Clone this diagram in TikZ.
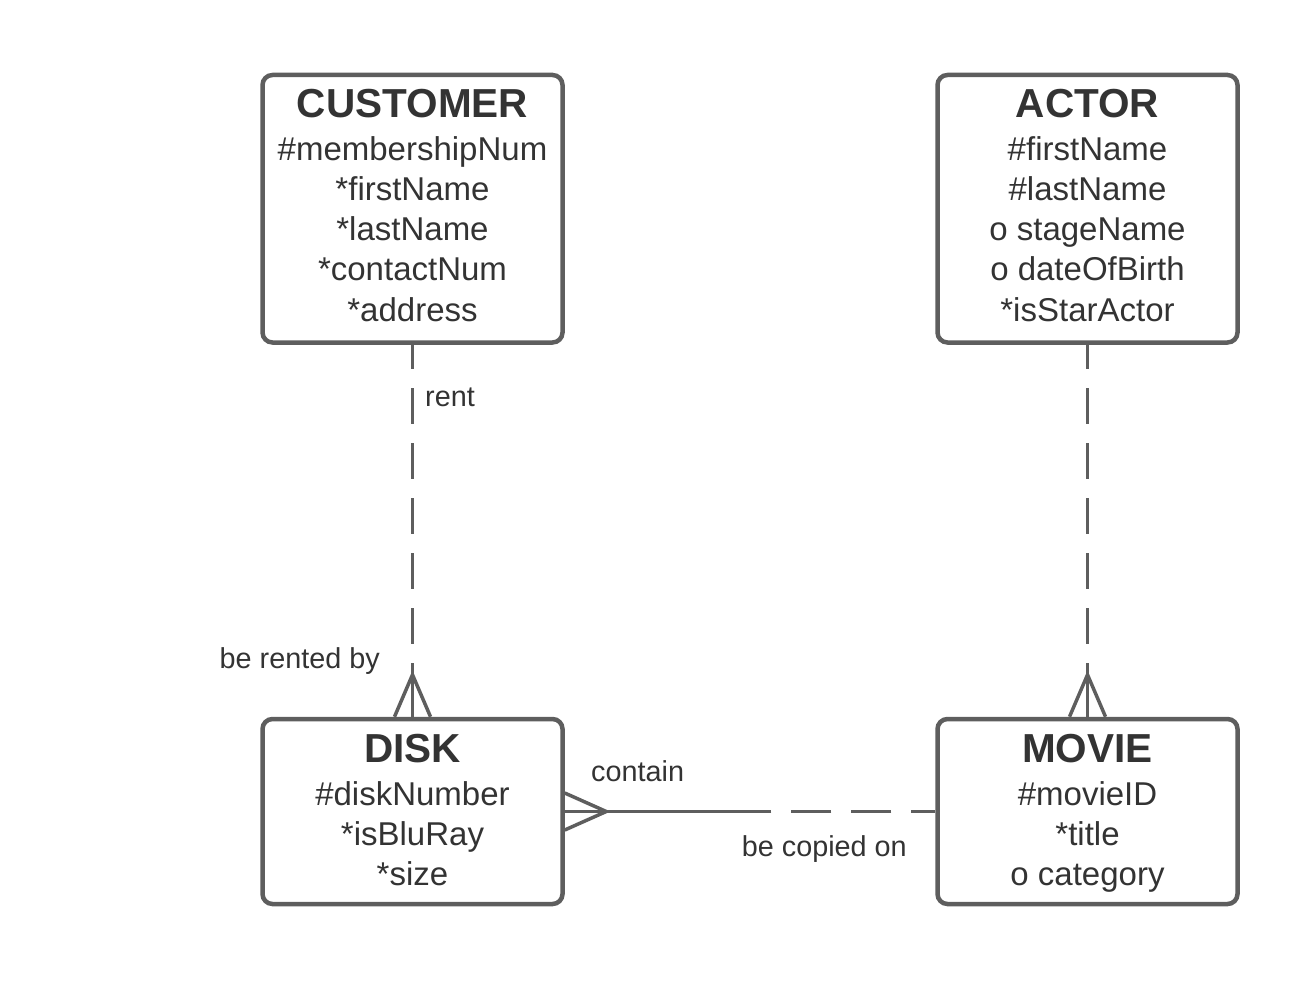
\documentclass[tikz,border=0pt]{standalone}
\usepackage{fontspec}
\setmainfont{Liberation Sans}
\definecolor{linegray}{HTML}{5E5E5E}
\definecolor{textgray}{HTML}{333333}
\begin{document}
\begin{tikzpicture}[x=1pt,y=-1pt,
        entity/.style={draw=linegray,line width=4.5pt,rounded corners=10pt,minimum width=300pt,inner sep=0pt},
        title/.style={anchor=base,inner sep=0pt,text=textgray,font=\fontsize{40.5}{48}\selectfont\bfseries},
        attr/.style={anchor=base,inner sep=0pt,text=textgray,font=\fontsize{33}{40}\selectfont},
        rel/.style={inner sep=0pt,text=textgray,font=\fontsize{28.8}{34}\selectfont},
        link/.style={draw=linegray,line width=3.5pt},
        dashlink/.style={link,dash pattern=on 36pt off 19pt,dash phase=11.5pt}]
        \useasboundingbox (0,0) rectangle (1313,981);
        \node[entity,minimum height=267.5pt] (customer) at (412.5,208.75) {};
        \node[entity,minimum height=267.5pt] (actor) at (1087.5,208.75) {};
        \node[entity,minimum height=185pt] (disk) at (412.5,811.5) {};
        \node[entity,minimum height=185pt] (movie) at (1087.5,811.5) {};
        \node[title] (customerT) at (412.5,118) {CUSTOMER};
        \node[attr] (customer1) at (412.5,161) {\#membershipNum};
        \node[attr] (customer2) at (412.5,201) {*firstName};
        \node[attr] (customer3) at (412.5,241) {*lastName};
        \node[attr] (customer4) at (412.5,281) {*contactNum};
        \node[attr] (customer5) at (412.5,321) {*address};
        \node[title] (actorT) at (1087.5,118) {ACTOR};
        \node[attr] (actor1) at (1087.5,161) {\#firstName};
        \node[attr] (actor2) at (1087.5,201) {\#lastName};
        \node[attr] (actor3) at (1087.5,241) {o stageName};
        \node[attr] (actor4) at (1087.5,281) {o dateOfBirth};
        \node[attr] (actor5) at (1087.5,321) {*isStarActor};
        \node[title] (diskT) at (412.5,762) {DISK};
        \node[attr] (disk1) at (412.5,805) {\#diskNumber};
        \node[attr] (disk2) at (412.5,845) {*isBluRay};
        \node[attr] (disk3) at (412.5,885) {*size};
        \node[title] (movieT) at (1087.5,762) {MOVIE};
        \node[attr] (movie1) at (1087.5,805) {\#movieID};
        \node[attr] (movie2) at (1087.5,845) {*title};
        \node[attr] (movie3) at (1087.5,885) {o category};
        \node[rel,anchor=base west] (rentL) at (425,406) {rent};
        \node[rel,anchor=base east] (rentedL) at (380,668) {be rented by};
        \node[rel,anchor=base west] (containL) at (591,781) {contain};
        \node[rel,anchor=base east] (copiedL) at (907,856) {be copied on};
        \draw[dashlink] (customer.south) -- (disk.north);
        \draw[link] (disk.north) -- ++(0,-42);
        \draw[link] ([xshift=-18pt]disk.north) -- ++(18,-42) -- ++(18,42);
        \draw[dashlink] (actor.south) -- (movie.north);
        \draw[link] (movie.north) -- ++(0,-42);
        \draw[link] ([xshift=-18pt]movie.north) -- ++(18,-42) -- ++(18,42);
        \path (disk.east) -- (movie.west) coordinate[pos=0.5] (half);
        \draw[link] (disk.east) -- (half);
        \draw[link,dash pattern=on 40pt off 20pt,dash phase=16pt] (movie.west) -- (half);
        \draw[link] ([yshift=18.5pt]disk.east) -- ++(41.5,18.5) -- ++(-41.5,18.5);
    \end{tikzpicture}
\end{document}
